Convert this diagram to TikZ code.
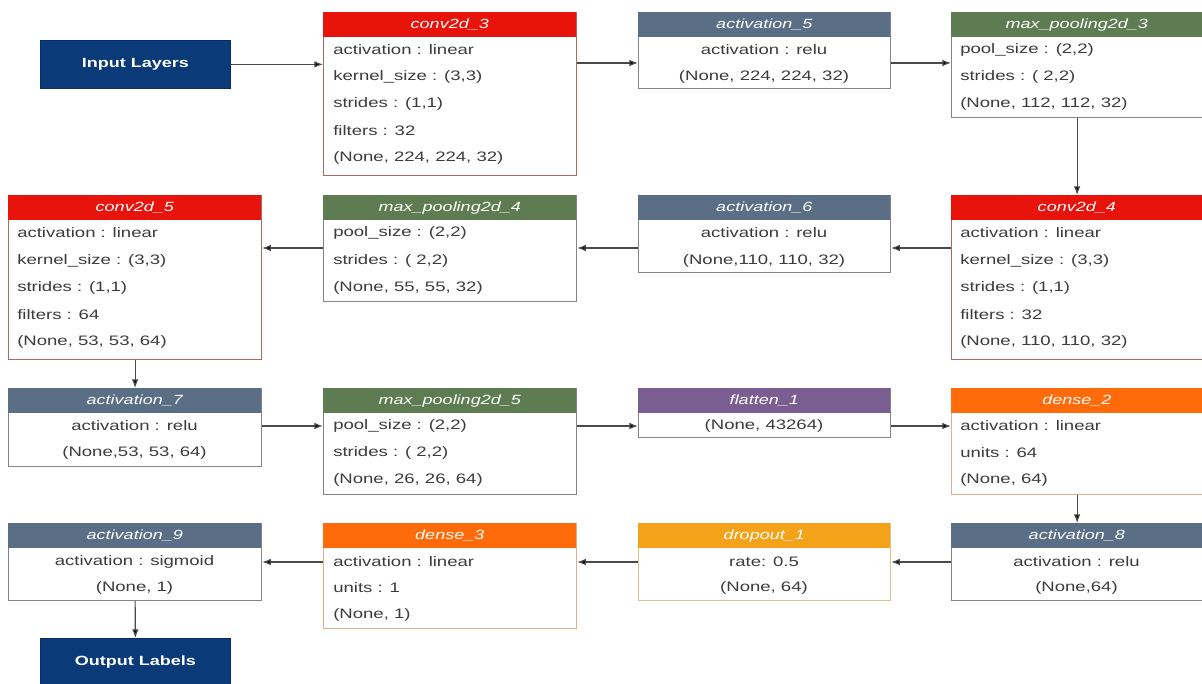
\documentclass[tikz,border=0pt]{standalone}
\usepackage{fontspec}
\usetikzlibrary{arrows.meta}
\newfontfamily\wfont{Liberation Sans}[FakeStretch=1.35]
\definecolor{convc}{HTML}{E8140C}
\definecolor{actc}{HTML}{5A6E85}
\definecolor{poolc}{HTML}{5E7C52}
\definecolor{flatc}{HTML}{7B5E91}
\definecolor{densec}{HTML}{FF6A0A}
\definecolor{dropc}{HTML}{F4A21A}
\definecolor{ioc}{HTML}{0B3A78}
\definecolor{txtc}{HTML}{3C3C3C}
\definecolor{grayb}{HTML}{858585}
\definecolor{convb}{HTML}{A86A66}
\definecolor{denseb}{HTML}{E0B08A}
\definecolor{dropb}{HTML}{DCC38E}
\definecolor{arrc}{HTML}{4A4A4A}
\tikzset{
  lbody/.style={rectangle, fill=white, inner sep=0pt, anchor=north west, line width=0.9pt},
  lhead/.style={rectangle, inner sep=0pt, anchor=north west, minimum height=18.75pt,
    text=white, font=\wfont\itshape\fontsize{10}{12}\selectfont},
  ltxt/.style={inner sep=0pt, text=txtc, font=\wfont\fontsize{10.3}{12}\selectfont},
  iobox/.style={rectangle, fill=ioc, draw=ioc!80!black, line width=0.6pt, inner sep=0pt,
    anchor=north west, minimum width=142.5pt, minimum height=36pt,
    text=white, font=\wfont\bfseries\fontsize{10}{12}\selectfont},
  arr/.style={draw=arrc, line width=0.9pt, -{Latex[length=6.5pt,width=5pt,fill=black]}}
}
\newcommand{\layerbox}[8]{%
  \node[lbody, draw=#7, minimum width={#4*0.75pt}, minimum height={#5*0.75pt}] (#1) at (#2,#3) {};
  \node[lhead, fill=#6, minimum width={#4*0.75pt}] (#1h) at (#2,#3) {#8};
}
\begin{document}
\begin{tikzpicture}[x=0.75pt,y=-0.75pt]
\useasboundingbox (0,0) rectangle (1202,684);
\fill[white] (0,0) rectangle (1202,684);
% ---------- row 1
\node[iobox] (input) at (40,40) {Input Layers};
\layerbox{conv3}{323}{12}{253}{163}{convc}{convb}{conv2d\_3}
\node[ltxt, anchor=west] (conv3a) at (333,50) {activation : linear};
\node[ltxt, anchor=west] (conv3b) at (333,77) {kernel\_size : (3,3)};
\node[ltxt, anchor=west] (conv3c) at (333,104) {strides : (1,1)};
\node[ltxt, anchor=west] (conv3d) at (333,131) {filters : 32};
\node[ltxt, anchor=west] (conv3e) at (333,158) {(None, 224, 224, 32)};
\layerbox{act5}{638}{12}{252}{76}{actc}{grayb}{activation\_5}
\node[ltxt] (act5a) at (764,50) {activation : relu};
\node[ltxt] (act5b) at (764,77) {(None, 224, 224, 32)};
\layerbox{mp3}{951}{12}{251}{105}{poolc}{grayb}{max\_pooling2d\_3}
\node[ltxt, anchor=west] (mp3a) at (960,50) {pool\_size : (2,2)};
\node[ltxt, anchor=west] (mp3b) at (960,77) {strides : ( 2,2)};
\node[ltxt, anchor=west] (mp3c) at (960,104) {(None, 112, 112, 32)};
% ---------- row 2
\layerbox{conv5}{8}{195}{253}{164}{convc}{convb}{conv2d\_5}
\node[ltxt, anchor=west] (conv5a) at (17,233) {activation : linear};
\node[ltxt, anchor=west] (conv5b) at (17,261) {kernel\_size : (3,3)};
\node[ltxt, anchor=west] (conv5c) at (17,288) {strides : (1,1)};
\node[ltxt, anchor=west] (conv5d) at (17,315) {filters : 64};
\node[ltxt, anchor=west] (conv5e) at (17,342) {(None, 53, 53, 64)};
\layerbox{mp4}{323}{195}{253}{106}{poolc}{grayb}{max\_pooling2d\_4}
\node[ltxt, anchor=west] (mp4a) at (333,233) {pool\_size : (2,2)};
\node[ltxt, anchor=west] (mp4b) at (333,261) {strides : ( 2,2)};
\node[ltxt, anchor=west] (mp4c) at (333,288) {(None, 55, 55, 32)};
\layerbox{act6}{638}{195}{252}{77}{actc}{grayb}{activation\_6}
\node[ltxt] (act6a) at (764,233) {activation : relu};
\node[ltxt] (act6b) at (764,261) {(None,110, 110, 32)};
\layerbox{conv4}{951}{195}{251}{164}{convc}{convb}{conv2d\_4}
\node[ltxt, anchor=west] (conv4a) at (960,233) {activation : linear};
\node[ltxt, anchor=west] (conv4b) at (960,261) {kernel\_size : (3,3)};
\node[ltxt, anchor=west] (conv4c) at (960,288) {strides : (1,1)};
\node[ltxt, anchor=west] (conv4d) at (960,315) {filters : 32};
\node[ltxt, anchor=west] (conv4e) at (960,342) {(None, 110, 110, 32)};
% ---------- row 3
\layerbox{act7}{8}{388}{253}{78}{actc}{grayb}{activation\_7}
\node[ltxt] (act7a) at (134.5,426) {activation : relu};
\node[ltxt] (act7b) at (134.5,453) {(None,53, 53, 64)};
\layerbox{mp5}{323}{388}{253}{106}{poolc}{grayb}{max\_pooling2d\_5}
\node[ltxt, anchor=west] (mp5a) at (333,426) {pool\_size : (2,2)};
\node[ltxt, anchor=west] (mp5b) at (333,453) {strides : ( 2,2)};
\node[ltxt, anchor=west] (mp5c) at (333,480) {(None, 26, 26, 64)};
\layerbox{flat}{638}{388}{252}{49}{flatc}{grayb}{flatten\_1}
\node[ltxt] (flata) at (764,426) {(None, 43264)};
\layerbox{dense2}{951}{388}{251}{106}{densec}{denseb}{dense\_2}
\node[ltxt, anchor=west] (dense2a) at (960,426) {activation : linear};
\node[ltxt, anchor=west] (dense2b) at (960,453) {units : 64};
\node[ltxt, anchor=west] (dense2c) at (960,480) {(None, 64)};
% ---------- row 4
\layerbox{act9}{8}{523}{253}{77}{actc}{grayb}{activation\_9}
\node[ltxt] (act9a) at (134.5,562) {activation : sigmoid};
\node[ltxt] (act9b) at (134.5,588) {(None, 1)};
\layerbox{dense3}{323}{523}{253}{105}{densec}{denseb}{dense\_3}
\node[ltxt, anchor=west] (dense3a) at (333,562) {activation : linear};
\node[ltxt, anchor=west] (dense3b) at (333,588) {units : 1};
\node[ltxt, anchor=west] (dense3c) at (333,615) {(None, 1)};
\layerbox{drop}{638}{523}{252}{77}{dropc}{dropb}{dropout\_1}
\node[ltxt] (dropa) at (764,562) {rate: 0.5};
\node[ltxt] (dropb) at (764,588) {(None, 64)};
\layerbox{act8}{951}{523}{251}{77}{actc}{grayb}{activation\_8}
\node[ltxt] (act8a) at (1076.5,562) {activation : relu};
\node[ltxt] (act8b) at (1076.5,588) {(None,64)};
\node[iobox] (output) at (40,638) {Output Labels};
% ---------- connectors
\coordinate (y1) at (0,63);
\coordinate (y2) at (0,248);
\coordinate (y3) at (0,426);
\coordinate (y4) at (0,562);
\draw[arr] (input.east) -- (input.east -| conv3.west);
\draw[arr] (conv3.east |- y1) -- (act5.west |- y1);
\draw[arr] (act5.east |- y1) -- (mp3.west |- y1);
\draw[arr] (mp3.south) -- (conv4.north);
\draw[arr] (conv4.west |- y2) -- (act6.east |- y2);
\draw[arr] (act6.west |- y2) -- (mp4.east |- y2);
\draw[arr] (mp4.west |- y2) -- (conv5.east |- y2);
\draw[arr] (conv5.south) -- (act7.north);
\draw[arr] (act7.east |- y3) -- (mp5.west |- y3);
\draw[arr] (mp5.east |- y3) -- (flat.west |- y3);
\draw[arr] (flat.east |- y3) -- (dense2.west |- y3);
\draw[arr] (dense2.south) -- (act8.north);
\draw[arr] (act8.west |- y4) -- (drop.east |- y4);
\draw[arr] (drop.west |- y4) -- (dense3.east |- y4);
\draw[arr] (dense3.west |- y4) -- (act9.east |- y4);
\draw[arr] (act9.south) -- (output.north);
\end{tikzpicture}
\end{document}
